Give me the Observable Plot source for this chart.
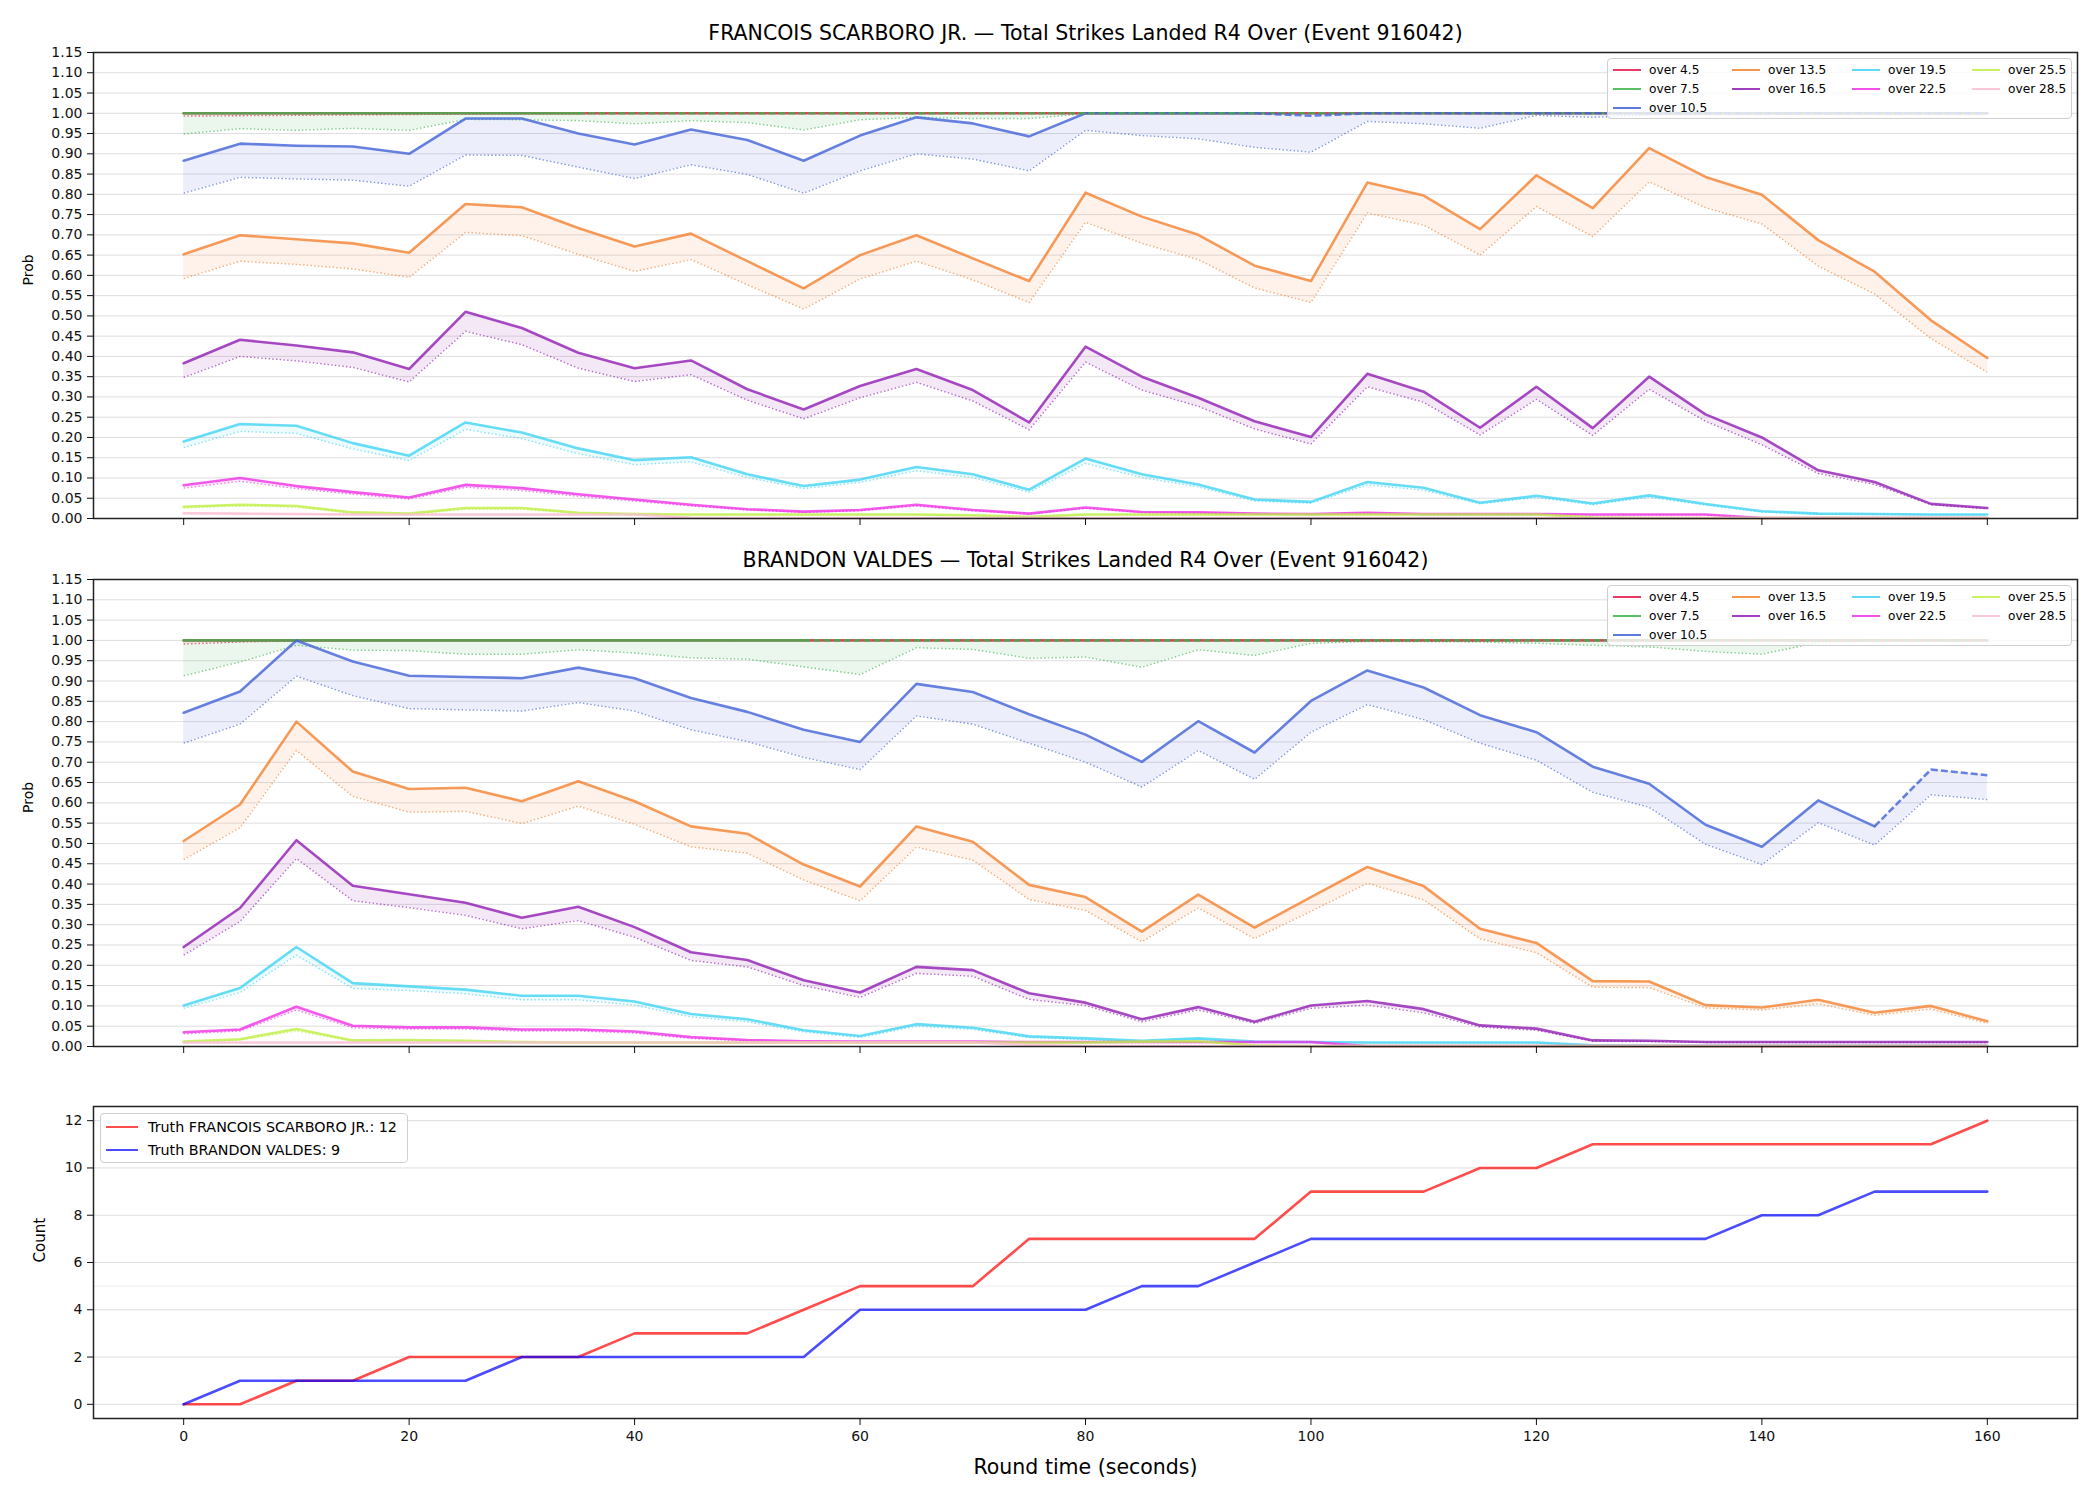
<!DOCTYPE html>
<html>
<head>
<meta charset="utf-8">
<script src="https://cdn.jsdelivr.net/npm/d3@7"></script>
<script src="https://cdn.jsdelivr.net/npm/@observablehq/plot@0.6"></script>
<style>
  body { margin: 0; background: #fff; font-family: "DejaVu Sans", sans-serif; }
  #root { position: relative; width: 2100px; height: 1500px; overflow: hidden; background: #fff; }
  .panel { position: absolute; left: 0; }
  .legend { position: absolute; background: rgba(255,255,255,0.8); border: 1px solid #cfcfcf; border-radius: 4px; box-sizing: border-box; }
  .legend .lab { position: absolute; white-space: nowrap; color: #000; transform: translateY(-50%); line-height: 1; }
  .legend .sw { position: absolute; height: 0; border-top-style: solid; transform: translateY(-50%); }
</style>
</head>
<body>
<div id="root"></div>
<script>
// ---- time axis (round seconds) ----
const times = [0,5,10,15,20,25,30,35,40,45,50,55,60,65,70,75,80,85,90,95,100,105,110,115,120,125,130,135,140,145,150,155,160];
const timeTicks = [0,20,40,60,80,100,120,140,160];
const probTicks = [0,0.05,0.10,0.15,0.20,0.25,0.30,0.35,0.40,0.45,0.50,0.55,0.60,0.65,0.70,0.75,0.80,0.85,0.90,0.95,1.00,1.05,1.10,1.15];
const countTicks = [0,2,4,6,8,10,12];

// ---- thresholds ----
const thresholds = ["over 4.5","over 7.5","over 10.5","over 13.5","over 16.5","over 19.5","over 22.5","over 25.5","over 28.5"];
const thresholdColors = ["#e6194b","#3cb44b","#4363d8","#f58231","#911eb4","#42d4f4","#f032e6","#bfef45","#fabed4"];

// ---- FRANCOIS SCARBORO JR. : probability line and lower band per threshold ----
const scarboroO45Line = [1,1,1,1,1,1,1,1,1,1,1,1,1,1,1,1,1,1,1,1,1,1,1,1,1,1,1,1,1,1,1,1,1];
const scarboroO45Low  = [0.993,0.994,0.995,0.996,0.997,0.998,0.999,0.999,1,1,1,1,1,1,1,1,1,1,1,1,1,1,1,1,1,1,1,1,1,1,1,1,1];
const scarboroO75Line = [1,1,1,1,1,1,1,1,1,1,1,1,1,1,1,1,1,1,1,1,1,1,1,1,1,1,1,1,1,1,1,1,1];
const scarboroO75Low  = [0.949,0.962,0.958,0.963,0.958,0.985,0.984,0.982,0.974,0.982,0.977,0.959,0.984,0.990,0.987,0.987,0.999,1,1,1,1,1,1,1,1,1,1,1,1,1,1,1,1];
const scarboroO105Line = [0.883,0.925,0.920,0.918,0.900,0.987,0.987,0.950,0.923,0.960,0.934,0.883,0.945,0.990,0.975,0.943,1,1,1,1,0.994,1,1,1,1,1,1,1,1,1,1,1,1];
const scarboroO105Low  = [0.803,0.842,0.838,0.835,0.820,0.897,0.896,0.867,0.839,0.873,0.849,0.803,0.858,0.900,0.887,0.858,0.958,0.945,0.937,0.916,0.904,0.980,0.974,0.963,0.995,0.990,0.996,0.997,0.997,0.998,0.999,0.999,0.999];
const scarboroO135Line = [0.652,0.699,0.689,0.679,0.656,0.776,0.768,0.717,0.671,0.703,0.635,0.568,0.650,0.699,0.642,0.586,0.804,0.745,0.700,0.624,0.586,0.829,0.797,0.714,0.847,0.766,0.914,0.843,0.799,0.687,0.609,0.489,0.396];
const scarboroO135Low  = [0.592,0.635,0.627,0.616,0.595,0.706,0.698,0.652,0.610,0.639,0.577,0.517,0.591,0.635,0.589,0.533,0.731,0.679,0.639,0.569,0.533,0.754,0.724,0.650,0.770,0.696,0.831,0.767,0.727,0.623,0.554,0.444,0.361];
const scarboroO165Line = [0.383,0.441,0.427,0.410,0.369,0.510,0.470,0.409,0.371,0.390,0.319,0.269,0.327,0.369,0.317,0.237,0.424,0.350,0.298,0.240,0.201,0.357,0.313,0.224,0.325,0.223,0.350,0.257,0.200,0.119,0.090,0.036,0.026];
const scarboroO165Low  = [0.348,0.400,0.389,0.373,0.337,0.462,0.429,0.371,0.338,0.355,0.292,0.246,0.298,0.336,0.290,0.219,0.386,0.317,0.277,0.221,0.184,0.325,0.287,0.206,0.294,0.205,0.319,0.240,0.182,0.111,0.084,0.034,0.024];
const scarboroO195Line = [0.190,0.233,0.229,0.186,0.155,0.237,0.212,0.173,0.144,0.151,0.109,0.080,0.096,0.127,0.109,0.071,0.148,0.109,0.084,0.047,0.041,0.090,0.076,0.039,0.056,0.037,0.057,0.036,0.018,0.012,0.011,0.010,0.010];
const scarboroO195Low  = [0.175,0.215,0.210,0.172,0.143,0.220,0.197,0.160,0.133,0.140,0.101,0.074,0.089,0.118,0.101,0.065,0.136,0.101,0.078,0.043,0.038,0.083,0.070,0.036,0.052,0.034,0.053,0.033,0.016,0.011,0.010,0.009,0.009];
const scarboroO225Line = [0.082,0.100,0.080,0.065,0.052,0.083,0.075,0.060,0.047,0.034,0.023,0.017,0.021,0.034,0.021,0.012,0.027,0.016,0.015,0.012,0.011,0.014,0.011,0.011,0.011,0.010,0.010,0.010,0.001,0.001,0.001,0.001,0.001];
const scarboroO225Low  = [0.075,0.092,0.074,0.060,0.048,0.077,0.069,0.055,0.043,0.031,0.021,0.015,0.019,0.031,0.019,0.011,0.025,0.015,0.014,0.011,0.010,0.013,0.010,0.010,0.010,0.009,0.009,0.009,0.001,0.001,0.001,0.001,0.001];
const scarboroO255Line = [0.029,0.034,0.031,0.015,0.012,0.026,0.026,0.014,0.011,0.010,0.010,0.010,0.010,0.010,0.008,0.004,0.010,0.010,0.010,0.010,0.010,0.010,0.010,0.010,0.010,0.003,0.001,0.001,0.001,0.001,0.001,0.001,0.001];
const scarboroO255Low  = [0.026,0.031,0.028,0.013,0.010,0.023,0.023,0.012,0.009,0.009,0.009,0.009,0.009,0.009,0.007,0.003,0.009,0.009,0.009,0.009,0.009,0.009,0.009,0.009,0.009,0.002,0.001,0.001,0.001,0.001,0.001,0.001,0.001];
const scarboroO285Line = [0.013,0.012,0.011,0.010,0.010,0.010,0.010,0.010,0.010,0.002,0.001,0.001,0.001,0.001,0.001,0.001,0.001,0.001,0.001,0.001,0.001,0.001,0.001,0.001,0.001,0.001,0.001,0.001,0.001,0.001,0.001,0.001,0.001];
const scarboroO285Low  = [0.012,0.011,0.010,0.009,0.009,0.009,0.009,0.009,0.009,0.002,0.001,0.001,0.001,0.001,0.001,0.001,0.001,0.001,0.001,0.001,0.001,0.001,0.001,0.001,0.001,0.001,0.001,0.001,0.001,0.001,0.001,0.001,0.001];
// time from which each threshold line is carried forward (drawn dashed); null = never
const scarboroDashFrom = [null, 35, 95, null, null, null, null, null, null];

// ---- BRANDON VALDES ----
const valdesO45Line = [1,1,1,1,1,1,1,1,1,1,1,1,1,1,1,1,1,1,1,1,1,1,1,1,1,1,1,1,1,1,1,1,1];
const valdesO45Low  = [0.991,0.996,0.999,1,1,1,1,1,1,1,1,1,1,1,1,1,1,1,1,1,1,1,1,1,1,1,1,1,1,1,1,1,1];
const valdesO75Line = [1,1,1,1,1,1,1,1,1,1,1,1,1,1,1,1,1,1,1,1,1,1,1,1,1,1,1,1,1,1,1,1,1];
const valdesO75Low  = [0.913,0.947,0.988,0.976,0.975,0.966,0.966,0.977,0.969,0.957,0.954,0.935,0.916,0.982,0.978,0.956,0.959,0.934,0.977,0.963,0.993,0.997,0.997,0.996,0.993,0.988,0.984,0.973,0.966,0.995,0.998,0.999,0.999];
const valdesO105Line = [0.822,0.874,1.000,0.948,0.913,0.910,0.907,0.933,0.907,0.858,0.824,0.780,0.750,0.893,0.873,0.818,0.768,0.701,0.801,0.724,0.851,0.926,0.884,0.816,0.774,0.689,0.647,0.546,0.492,0.606,0.542,0.682,0.668];
const valdesO105Low  = [0.747,0.794,0.912,0.864,0.832,0.829,0.826,0.847,0.826,0.780,0.751,0.712,0.682,0.814,0.794,0.747,0.700,0.639,0.729,0.658,0.774,0.842,0.805,0.747,0.705,0.626,0.589,0.498,0.448,0.551,0.496,0.620,0.608];
const valdesO135Line = [0.506,0.596,0.800,0.677,0.634,0.637,0.604,0.653,0.604,0.542,0.524,0.448,0.394,0.542,0.504,0.398,0.368,0.283,0.374,0.293,0.368,0.442,0.395,0.290,0.255,0.161,0.160,0.102,0.096,0.115,0.083,0.100,0.062];
const valdesO135Low  = [0.460,0.539,0.729,0.616,0.577,0.579,0.549,0.592,0.547,0.492,0.476,0.410,0.359,0.491,0.459,0.362,0.335,0.258,0.341,0.266,0.333,0.402,0.361,0.265,0.231,0.146,0.145,0.095,0.090,0.105,0.077,0.092,0.057];
const valdesO165Line = [0.245,0.341,0.508,0.396,0.375,0.354,0.317,0.344,0.294,0.232,0.213,0.163,0.133,0.196,0.188,0.131,0.108,0.067,0.097,0.061,0.101,0.112,0.092,0.052,0.044,0.015,0.014,0.011,0.011,0.011,0.011,0.011,0.011];
const valdesO165Low  = [0.225,0.308,0.463,0.359,0.342,0.323,0.290,0.310,0.269,0.212,0.196,0.150,0.121,0.180,0.173,0.116,0.101,0.061,0.090,0.057,0.094,0.102,0.083,0.048,0.040,0.013,0.012,0.010,0.010,0.010,0.010,0.010,0.010];
const valdesO195Line = [0.101,0.144,0.245,0.156,0.148,0.140,0.125,0.125,0.111,0.080,0.067,0.040,0.026,0.055,0.046,0.025,0.020,0.014,0.020,0.012,0.011,0.010,0.010,0.010,0.010,0.003,0.002,0.002,0.002,0.002,0.002,0.002,0.002];
const valdesO195Low  = [0.094,0.133,0.225,0.143,0.138,0.130,0.115,0.115,0.102,0.073,0.061,0.036,0.022,0.050,0.042,0.022,0.017,0.012,0.017,0.010,0.010,0.009,0.009,0.009,0.009,0.002,0.001,0.001,0.001,0.001,0.001,0.001,0.001];
const valdesO225Line = [0.035,0.042,0.098,0.051,0.047,0.047,0.042,0.042,0.037,0.023,0.016,0.013,0.012,0.012,0.012,0.011,0.011,0.011,0.011,0.011,0.011,0.001,0.001,0.001,0.001,0.001,0.001,0.001,0.001,0.001,0.001,0.001,0.001];
const valdesO225Low  = [0.031,0.038,0.090,0.046,0.043,0.043,0.038,0.038,0.033,0.020,0.014,0.011,0.010,0.010,0.010,0.010,0.010,0.010,0.010,0.010,0.010,0.001,0.001,0.001,0.001,0.001,0.001,0.001,0.001,0.001,0.001,0.001,0.001];
const valdesO255Line = [0.012,0.018,0.043,0.015,0.016,0.014,0.011,0.010,0.010,0.010,0.010,0.010,0.010,0.010,0.010,0.010,0.010,0.012,0.013,0.003,0.001,0.001,0.001,0.001,0.001,0.001,0.001,0.001,0.001,0.001,0.001,0.001,0.001];
const valdesO255Low  = [0.010,0.016,0.038,0.013,0.014,0.012,0.010,0.009,0.009,0.009,0.009,0.009,0.009,0.009,0.009,0.009,0.009,0.011,0.012,0.002,0.001,0.001,0.001,0.001,0.001,0.001,0.001,0.001,0.001,0.001,0.001,0.001,0.001];
const valdesO285Line = [0.010,0.010,0.010,0.010,0.010,0.010,0.010,0.010,0.010,0.010,0.010,0.010,0.010,0.010,0.010,0.004,0.001,0.001,0.001,0.001,0.001,0.001,0.001,0.001,0.001,0.001,0.001,0.001,0.001,0.001,0.001,0.001,0.001];
const valdesO285Low  = [0.009,0.009,0.009,0.009,0.009,0.009,0.009,0.009,0.009,0.009,0.009,0.009,0.009,0.009,0.009,0.003,0.001,0.001,0.001,0.001,0.001,0.001,0.001,0.001,0.001,0.001,0.001,0.001,0.001,0.001,0.001,0.001,0.001];
const valdesDashFrom = [null, 55, 150, null, null, null, null, null, null];

// ---- observed running strike counts ----
const scarboroTruth = [0,0,1,1,2,2,2,2,3,3,3,4,5,5,5,7,7,7,7,7,9,9,9,10,10,11,11,11,11,11,11,11,12];
const valdesTruth   = [0,1,1,1,1,1,2,2,2,2,2,2,4,4,4,4,4,5,5,6,7,7,7,7,7,7,7,7,8,8,9,9,9];

const scarboroLines = [scarboroO45Line, scarboroO75Line, scarboroO105Line, scarboroO135Line, scarboroO165Line, scarboroO195Line, scarboroO225Line, scarboroO255Line, scarboroO285Line];
const scarboroLows  = [scarboroO45Low, scarboroO75Low, scarboroO105Low, scarboroO135Low, scarboroO165Low, scarboroO195Low, scarboroO225Low, scarboroO255Low, scarboroO285Low];
const valdesLines = [valdesO45Line, valdesO75Line, valdesO105Line, valdesO135Line, valdesO165Line, valdesO195Line, valdesO225Line, valdesO255Line, valdesO285Line];
const valdesLows  = [valdesO45Low, valdesO75Low, valdesO105Low, valdesO135Low, valdesO165Low, valdesO195Low, valdesO225Low, valdesO255Low, valdesO285Low];

const FONT = "DejaVu Sans, sans-serif";
const root = document.getElementById("root");

function tidy(lines, lows, dashFrom) {
  const out = [];
  thresholds.forEach((thr, k) => {
    times.forEach((t, i) => {
      const df = dashFrom[k];
      out.push({
        t, thr,
        line: lines[k][i],
        low: lows[k][i],
        solid: df == null || t <= df,
        dashed: df != null && t >= df
      });
    });
  });
  return out;
}

function probPanel({title, data, top, height, marginTop, marginBottom}) {
  const svg = Plot.plot({
    width: 2100, height,
    marginLeft: 93, marginRight: 23, marginTop, marginBottom,
    x: {domain: [-8, 168]},
    y: {domain: [0, 1.15]},
    color: {domain: thresholds, range: thresholdColors},
    style: {fontFamily: FONT, fontSize: "14px", color: "#111", background: "transparent", overflow: "visible"},
    marks: [
      Plot.ruleY(probTicks, {stroke: "#dedede", strokeWidth: 1}),
      Plot.areaY(data, {x: "t", y1: "low", y2: "line", z: "thr", fill: "thr", fillOpacity: 0.1}),
      Plot.lineY(data, {x: "t", y: "low", z: "thr", stroke: "thr", strokeWidth: 1.4, strokeOpacity: 0.65, strokeDasharray: "1.5,2.2", strokeLinecap: "butt"}),
      Plot.lineY(data.filter(d => d.solid), {x: "t", y: "line", z: "thr", stroke: "thr", strokeWidth: 2.6, strokeOpacity: 0.8}),
      Plot.lineY(data.filter(d => d.dashed), {x: "t", y: "line", z: "thr", stroke: "thr", strokeWidth: 2.6, strokeOpacity: 0.8, strokeDasharray: "7,3", strokeLinecap: "butt"}),
      Plot.frame({stroke: "#222", strokeWidth: 1.5}),
      Plot.axisY({ticks: probTicks, tickFormat: d3.format(".2f"), tickSize: 6, tickPadding: 5, label: null}),
      Plot.axisX({ticks: timeTicks, tickSize: 7, tickFormat: () => "", label: null}),
      Plot.text([title], {frameAnchor: "top", dy: -13, lineAnchor: "bottom", fontSize: 20.5, fill: "#000"}),
      Plot.text(["Prob"], {frameAnchor: "left", rotate: -90, dx: -65, fontSize: 14, fill: "#000"})
    ]
  });
  svg.classList.add("panel");
  svg.style.top = top + "px";
  root.appendChild(svg);
}

function addLegend({left, top, width, height, fontSize, items}) {
  const box = document.createElement("div");
  box.className = "legend";
  Object.assign(box.style, {left: left + "px", top: top + "px", width: width + "px", height: height + "px"});
  items.forEach(it => {
    const sw = document.createElement("div");
    sw.className = "sw";
    Object.assign(sw.style, {left: it.sx + "px", top: it.y + "px", width: it.sw + "px", borderTopColor: it.color, borderTopWidth: "2.6px", opacity: it.opacity});
    box.appendChild(sw);
    const lab = document.createElement("div");
    lab.className = "lab";
    lab.textContent = it.label;
    Object.assign(lab.style, {left: it.tx + "px", top: it.y + "px", fontSize: fontSize + "px", fontFamily: FONT});
    box.appendChild(lab);
  });
  root.appendChild(box);
}

// legend layout: 4 columns filled column-first (3, 2, 2, 2 entries)
const legendSlots = [[0,0],[0,1],[0,2],[1,0],[1,1],[2,0],[2,1],[3,0],[3,1]];
const legendColX = [5, 124, 244, 364];
const legendRowY = [10.5, 30, 49];
function thresholdLegend(top) {
  addLegend({
    left: 1607, top, width: 465, height: 61, fontSize: 12.2,
    items: thresholds.map((thr, k) => {
      const [c, r] = legendSlots[k];
      return {label: thr, color: thresholdColors[k], opacity: 0.85, sx: legendColX[c], sw: 28, tx: legendColX[c] + 36, y: legendRowY[r]};
    })
  });
}

probPanel({
  title: "FRANCOIS SCARBORO JR. \u2014 Total Strikes Landed R4 Over (Event 916042)",
  data: tidy(scarboroLines, scarboroLows, scarboroDashFrom),
  top: 0, height: 530, marginTop: 52, marginBottom: 12
});
thresholdLegend(58);

probPanel({
  title: "BRANDON VALDES \u2014 Total Strikes Landed R4 Over (Event 916042)",
  data: tidy(valdesLines, valdesLows, valdesDashFrom),
  top: 530, height: 530, marginTop: 49, marginBottom: 14
});
thresholdLegend(585);

// ---- running count panel ----
const truthRows = times.map((t, i) => ({t, scarboro: scarboroTruth[i], valdes: valdesTruth[i]}));
const countSvg = Plot.plot({
  width: 2100, height: 440,
  marginLeft: 93, marginRight: 23, marginTop: 46, marginBottom: 82,
  x: {domain: [-8, 168]},
  y: {domain: [-0.6, 12.6]},
  style: {fontFamily: FONT, fontSize: "14px", color: "#111", background: "transparent", overflow: "visible"},
  marks: [
    Plot.ruleY(countTicks, {stroke: "#dedede", strokeWidth: 1}),
    Plot.ruleY([5], {stroke: "#ececec", strokeWidth: 1}),
    Plot.line(truthRows, {x: "t", y: "scarboro", stroke: "#ff0000", strokeOpacity: 0.7, strokeWidth: 2.6}),
    Plot.line(truthRows, {x: "t", y: "valdes", stroke: "#0000ff", strokeOpacity: 0.7, strokeWidth: 2.6}),
    Plot.frame({stroke: "#222", strokeWidth: 1.5}),
    Plot.axisY({ticks: countTicks, tickFormat: d3.format("d"), tickSize: 6, tickPadding: 5, label: null}),
    Plot.axisX({ticks: timeTicks, tickFormat: d3.format("d"), tickSize: 7, tickPadding: 6, label: null}),
    Plot.text(["Count"], {frameAnchor: "left", rotate: -90, dx: -53, fontSize: 15, fill: "#000"}),
    Plot.text(["Round time (seconds)"], {frameAnchor: "bottom", dy: 49, lineAnchor: "middle", fontSize: 20.5, fill: "#000"})
  ]
});
countSvg.classList.add("panel");
countSvg.style.top = "1060px";
root.appendChild(countSvg);

addLegend({
  left: 100, top: 1113, width: 308, height: 50, fontSize: 14.3,
  items: [
    {label: "Truth FRANCOIS SCARBORO JR.: " + scarboroTruth[scarboroTruth.length - 1], color: "#ff0000", opacity: 0.7, sx: 5, sw: 32, tx: 47, y: 13},
    {label: "Truth BRANDON VALDES: " + valdesTruth[valdesTruth.length - 1], color: "#0000ff", opacity: 0.7, sx: 5, sw: 32, tx: 47, y: 36}
  ]
});
</script>
</body>
</html>
